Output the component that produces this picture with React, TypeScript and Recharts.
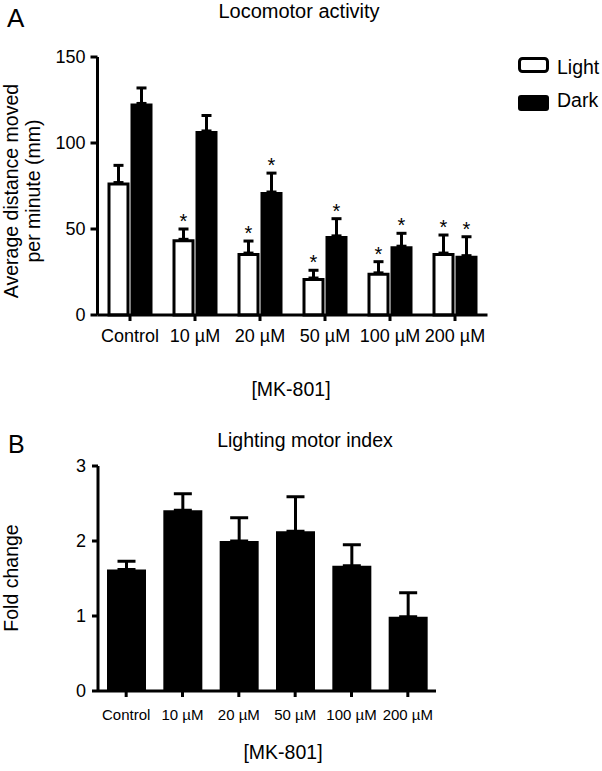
import React from 'react';
import { BarChart, Bar, XAxis, YAxis, ErrorBar, LabelList, Legend, Rectangle } from 'recharts';

const categories = ['Control', '10 µM', '20 µM', '50 µM', '100 µM', '200 µM'];
const lightMeans = [77, 44, 36, 21.5, 24.5, 36];
const lightErrors = [10, 6, 7, 4.5, 6.5, 10.5];
const darkMeans = [123, 107, 71.5, 46, 40, 34.5];
const darkErrors = [9, 9, 11, 10, 7.5, 11];
const lightSignificant = [false, true, true, true, true, true];
const darkSignificant = [false, false, true, true, true, true];
const topTicks = [0, 50, 100, 150];

const foldChange = [1.62, 2.41, 2.0, 2.13, 1.67, 0.99];
const foldChangeErrors = [0.11, 0.22, 0.31, 0.46, 0.28, 0.32];
const bottomTicks = [0, 1, 2, 3];

const FONT = '"Liberation Sans", Arial, Helvetica, sans-serif';

const topData = categories.map((c, i) => ({
  category: c,
  Light: lightMeans[i],
  lightErr: [0, lightErrors[i]],
  Dark: darkMeans[i],
  darkErr: [0, darkErrors[i]],
}));

const bottomData = categories.map((c, i) => ({
  category: c,
  fold: foldChange[i],
  foldErr: [0, foldChangeErrors[i]],
}));

const makeStar = (means: number[], errs: number[], sig: boolean[]) => (props: any) => {
  const { x, y, width, height, index } = props;
  if (index == null || !sig[index]) return null;
  const h = Number(height);
  const pxPerUnit = h / means[index];
  const top = Number(y) - errs[index] * pxPerUnit;
  return (
    <text
      key={`star-${index}`}
      x={Number(x) + Number(width) / 2}
      y={top - 1}
      textAnchor="middle"
      fontSize={20}
      fontFamily={FONT}
      fill="#000"
    >
      *
    </text>
  );
};

const LightShape = (props: any) => {
  const { x, y, width, height } = props;
  return (
    <Rectangle
      x={x + 1.5}
      y={y + 1.5}
      width={Math.max(0, width - 3)}
      height={Math.max(0, height - 1.5)}
      fill="#fff"
      stroke="#000"
      strokeWidth={3}
    />
  );
};

const axisLine = { stroke: '#000', strokeWidth: 3 };
const tickLine = { stroke: '#000', strokeWidth: 3 };

const renderLegend = () => (
  <svg width={100} height={70} style={{ display: 'block', overflow: 'visible' }}>
    <rect x={3.5} y={5.5} width={28} height={13} rx={3} fill="#fff" stroke="#000" strokeWidth={3} />
    <text x={41} y={21} fontSize={19.5} fontFamily={FONT} fill="#000">Light</text>
    <rect x={2} y={42} width={31} height={16} rx={3} fill="#000" />
    <text x={41} y={54} fontSize={19.5} fontFamily={FONT} fill="#000">Dark</text>
  </svg>
);

export default function App() {
  return (
    <div style={{ position: 'absolute', left: 0, top: 0, width: 602, height: 771, background: '#fff', fontFamily: FONT }}>
      <div style={{ position: 'absolute', left: 0, top: 0 }}>
        <BarChart
          width={602}
          height={400}
          data={topData}
          margin={{ top: 57, right: 114.5, bottom: 55, left: 0 }}
          barGap={1}
          barSize={22}
        >
          <XAxis
            dataKey="category"
            height={30}
            interval={0}
            axisLine={axisLine}
            tickLine={tickLine}
            tickSize={6}
            tickMargin={8}
            tick={{ fontSize: 18, fill: '#000', fontFamily: FONT }}
          />
          <YAxis
            width={97.5}
            domain={[0, 150]}
            ticks={topTicks}
            interval={0}
            axisLine={axisLine}
            tickLine={tickLine}
            tickSize={7}
            tickMargin={5}
            tick={{ fontSize: 18, fill: '#000', fontFamily: FONT }}
          />
          <Legend
            content={renderLegend}
            wrapperStyle={{ position: 'absolute', left: 516, top: 53, width: 0, height: 0, overflow: 'visible' }}
          />
          <Bar dataKey="Light" fill="#fff" shape={LightShape} isAnimationActive={false}>
            <ErrorBar dataKey="lightErr" direction="y" width={5} stroke="#000" strokeWidth={3} isAnimationActive={false} />
            <LabelList dataKey="Light" content={makeStar(lightMeans, lightErrors, lightSignificant)} />
          </Bar>
          <Bar dataKey="Dark" fill="#000" isAnimationActive={false}>
            <ErrorBar dataKey="darkErr" direction="y" width={5} stroke="#000" strokeWidth={3} isAnimationActive={false} />
            <LabelList dataKey="Dark" content={makeStar(darkMeans, darkErrors, darkSignificant)} />
          </Bar>
        </BarChart>
      </div>

      <div style={{ position: 'absolute', left: 0, top: 400 }}>
        <BarChart
          width={602}
          height={340}
          data={bottomData}
          margin={{ top: 66, right: 166, bottom: 19, left: 0 }}
          barSize={39}
        >
          <XAxis
            dataKey="category"
            height={30}
            interval={0}
            axisLine={axisLine}
            tickLine={tickLine}
            tickSize={6}
            tickMargin={12}
            tick={{ fontSize: 15, fill: '#000', fontFamily: FONT }}
          />
          <YAxis
            width={98}
            domain={[0, 3]}
            ticks={bottomTicks}
            interval={0}
            axisLine={axisLine}
            tickLine={tickLine}
            tickSize={6}
            tickMargin={6}
            tick={{ fontSize: 18, fill: '#000', fontFamily: FONT }}
          />
          <Bar dataKey="fold" fill="#000" isAnimationActive={false}>
            <ErrorBar dataKey="foldErr" direction="y" width={9} stroke="#000" strokeWidth={3} isAnimationActive={false} />
          </Bar>
        </BarChart>
      </div>

      <svg
        width={602}
        height={771}
        style={{ position: 'absolute', left: 0, top: 0, pointerEvents: 'none' }}
        fontFamily={FONT}
      >
        <text x={7} y={27} fontSize={26} fill="#000">A</text>
        <text x={299} y={18} fontSize={20} textAnchor="middle" fill="#000">Locomotor activity</text>
        <text transform="translate(11,191) rotate(-90)" fontSize={19.5} textAnchor="middle" dominantBaseline="central" fill="#000">
          Average distance moved
        </text>
        <text transform="translate(33,191) rotate(-90)" fontSize={19.5} textAnchor="middle" dominantBaseline="central" fill="#000">
          per minute (mm)
        </text>
        <text x={291} y={396} fontSize={19.5} textAnchor="middle" fill="#000">[MK-801]</text>

        <text x={8} y={453} fontSize={25} fill="#000">B</text>
        <text x={305} y={447} fontSize={19.5} textAnchor="middle" fill="#000">Lighting motor index</text>
        <text transform="translate(11,578) rotate(-90)" fontSize={19.5} textAnchor="middle" dominantBaseline="central" fill="#000">
          Fold change
        </text>
        <text x={283} y={759} fontSize={19.5} textAnchor="middle" fill="#000">[MK-801]</text>
      </svg>
    </div>
  );
}
